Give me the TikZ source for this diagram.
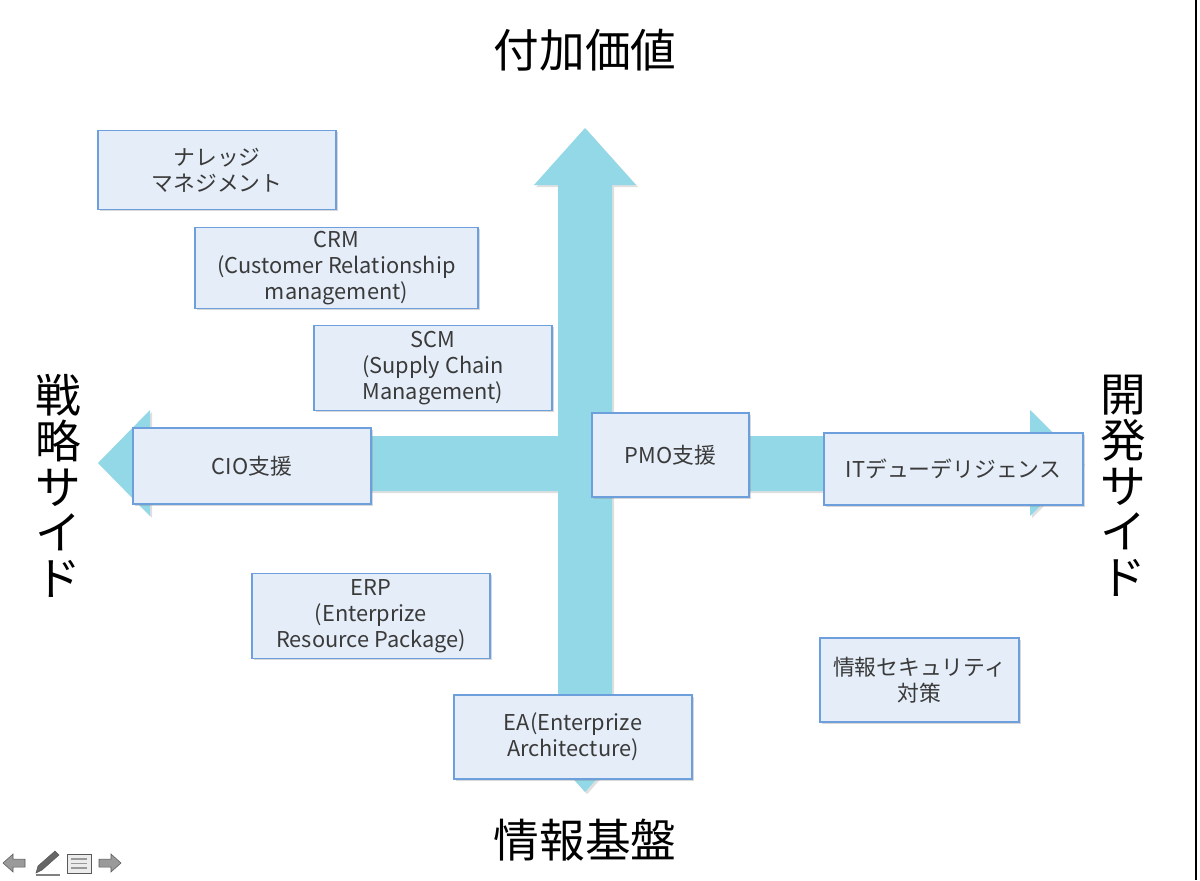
\documentclass[tikz,border=0pt]{standalone}
\usepackage{fontspec}
\setmainfont{Noto Sans CJK JP}
\usetikzlibrary{shadows}
\definecolor{arrowblue}{HTML}{93D8E7}
\definecolor{boxfill}{HTML}{E4EDF8}
\definecolor{boxline}{HTML}{6C9FDB}
\definecolor{boxtext}{HTML}{3A3A3A}
\definecolor{icongray}{HTML}{9A9A9A}
\begin{document}
\begin{tikzpicture}[x=0.02cm, y=-0.02cm,
        bigarrow/.style = {fill=arrowblue, drop shadow={opacity=0.25, shadow xshift=1.2pt, shadow yshift=-1.2pt}},
        itembox/.style = {draw=boxline, line width=0.8pt, fill=boxfill, text=boxtext, align=center,
            font=\fontsize{12.4}{14.8}\selectfont, inner sep=2pt,
            drop shadow={opacity=0.3, shadow xshift=1pt, shadow yshift=-1pt}},
        axislabel/.style = {font=\fontsize{26}{26}\selectfont, align=center, inner sep=0pt},
        navicon/.style = {fill=icongray, draw=gray!70!black, line width=0.3pt}]
    \useasboundingbox (0,0) rectangle (1200,880);
    \fill[white] (0,0) rectangle (1200,880);
    % horizontal arrow
    \fill[bigarrow] (98,463) -- (150,410) -- (150,436) -- (1030,436) -- (1030,410)
        -- (1083,463) -- (1030,516) -- (1030,491) -- (150,491) -- (150,516) -- cycle;
    % vertical arrow
    \fill[bigarrow] (585,128) -- (636,185) -- (612,185) -- (612,735) -- (636,735)
        -- (585,792) -- (534,735) -- (558,735) -- (558,185) -- (534,185) -- cycle;
    % axis labels
    \node[axislabel] (top) at (585,50) {付加価値};
    \node[axislabel] (bottom) at (585,840) {情報基盤};
    \node[axislabel] (left) at (58,486) {戦\\略\\サ\\イ\\ド};
    \node[axislabel] (right) at (1123,486) {開\\発\\サ\\イ\\ド};
    % boxes
    \node[itembox, minimum width=4.76cm, minimum height=1.58cm] (km) at (217,170) {ナレッジ\\マネジメント};
    \node[itembox, minimum width=5.66cm, minimum height=1.56cm] (crm) at (336.5,268) {CRM\\(Customer Relationship\\management)};
    \node[itembox, minimum width=4.76cm, minimum height=1.70cm] (scm) at (433,368) {SCM\\(Supply Chain\\Management)};
    \node[itembox, minimum width=4.76cm, minimum height=1.52cm] (cio) at (252,466) {CIO支援};
    \node[itembox, minimum width=3.14cm, minimum height=1.68cm] (pmo) at (670.5,455) {PMO支援};
    \node[itembox, minimum width=5.18cm, minimum height=1.44cm] (itdd) at (953.5,469) {ITデューデリジェンス};
    \node[itembox, minimum width=4.76cm, minimum height=1.70cm] (erp) at (371,616) {ERP\\(Enterprize\\Resource Package)};
    \node[itembox, minimum width=3.98cm, minimum height=1.68cm] (sec) at (919.5,680) {情報セキュリティ\\対策};
    \node[itembox, minimum width=4.76cm, minimum height=1.68cm] (ea) at (573,737) {EA(Enterprize\\Architecture)};
    % page edge
    \draw[line width=1.2pt] (1196,0) -- (1196,880);
    % navigation icons
    \fill[navicon] (3,863) -- (13,854) -- (13,859) -- (25,859) -- (25,867) -- (13,867) -- (13,872) -- cycle;
    \fill[navicon, fill=gray!80!black] (36,873) -- (38,866) -- (55,851) -- (59,855) -- (42,870) -- cycle;
    \draw[gray, line width=0.6pt] (36,875) -- (60,875);
    \draw[navicon, fill=gray!15] (67,854) rectangle (91,873);
    \foreach \ly in {859,863.5,868}
        \draw[icongray, line width=1pt] (71,\ly) -- (87,\ly);
    \fill[navicon] (121,863) -- (111,854) -- (111,859) -- (99,859) -- (99,867) -- (111,867) -- (111,872) -- cycle;
\end{tikzpicture}
\end{document}
